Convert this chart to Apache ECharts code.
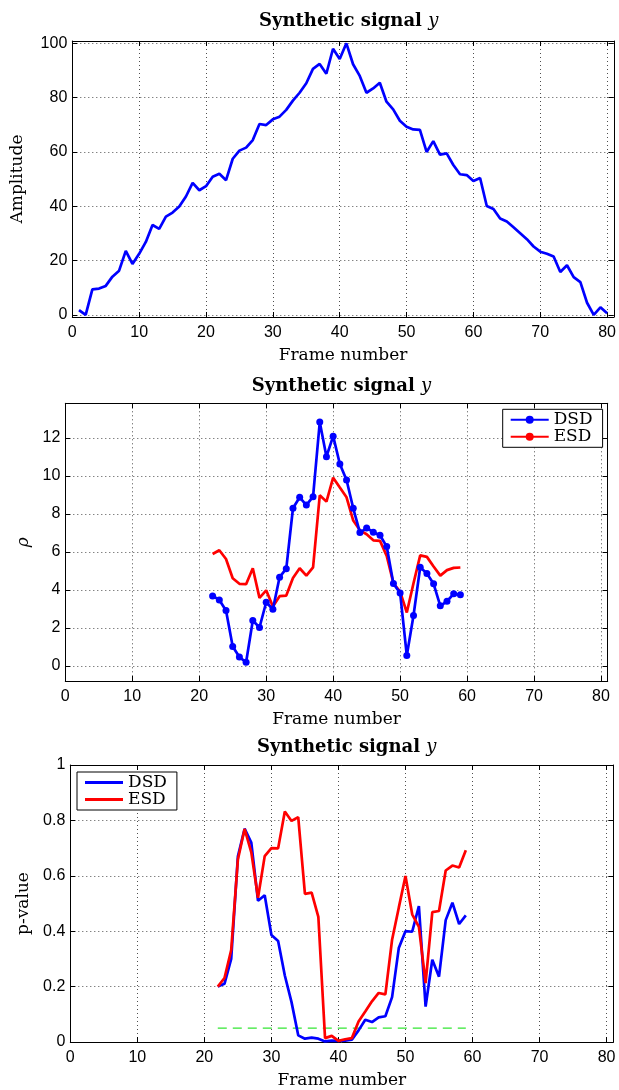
<!DOCTYPE html>
<html>
<head>
<meta charset="utf-8">
<script src="https://cdn.jsdelivr.net/npm/echarts@6/dist/echarts.min.js"></script>
<style>
  html, body { margin: 0; padding: 0; background: #fff; }
  #chart { width: 619px; height: 1090px; }
</style>
</head>
<body>
<div id="chart"></div>
<script>
// Synthetic signal amplitude, frames 1..80
const signalStart = 1;
const signalY = [1.8, 0, 9.4, 9.7, 10.7, 14.1, 16.3, 23.6, 18.8, 22.5,
  26.9, 33.1, 31.7, 36.2, 37.7, 39.9, 43.6, 48.6, 45.9, 47.4,
  50.9, 52.0, 49.6, 57.5, 60.5, 61.6, 64.4, 70.3, 69.9, 72.0,
  73.0, 75.5, 78.9, 81.8, 85.3, 90.6, 92.4, 88.8, 98.0, 94.2,
  100, 92.3, 88.0, 81.8, 83.4, 85.5, 78.5, 75.7, 71.5, 69.3,
  68.3, 68.1, 60.0, 64.0, 59.0, 59.5, 55.2, 51.8, 51.5, 49.3,
  50.4, 40.1, 39.0, 35.5, 34.4, 32.3, 30.1, 27.9, 25.2, 23.3,
  22.5, 21.5, 15.8, 18.3, 13.9, 12.1, 4.5, 0, 2.8, 0.6];

// Test statistics, frames 22..59
const testStart = 22;
const rhoDSD = [3.68, 3.47, 2.91, 1.02, 0.46, 0.19, 2.39, 2.02, 3.35, 2.98,
  4.67, 5.12, 8.30, 8.88, 8.47, 8.91, 12.84, 11.02, 12.1, 10.63,
  9.79, 8.30, 7.02, 7.26, 7.04, 6.88, 6.28, 4.33, 3.84, 0.54,
  2.65, 5.19, 4.86, 4.32, 3.16, 3.40, 3.79, 3.74];
const rhoESD = [5.89, 6.09, 5.63, 4.61, 4.32, 4.30, 5.14, 3.58, 3.98, 3.12,
  3.67, 3.70, 4.63, 5.14, 4.75, 5.19, 8.98, 8.65, 9.91, 9.39,
  8.88, 7.65, 7.14, 6.93, 6.61, 6.58, 5.79, 4.35, 3.91, 2.81,
  4.35, 5.82, 5.74, 5.23, 4.75, 5.04, 5.16, 5.18];
const pDSD = [0.20, 0.21, 0.30, 0.67, 0.77, 0.72, 0.51, 0.53, 0.386, 0.365,
  0.24, 0.144, 0.024, 0.012, 0.016, 0.012, 0.002, 0.005, 0.004, 0.005,
  0.008, 0.042, 0.08, 0.072, 0.089, 0.093, 0.162, 0.339, 0.40, 0.398,
  0.491, 0.128, 0.297, 0.236, 0.44, 0.503, 0.426, 0.457];
const pESD = [0.20, 0.231, 0.332, 0.659, 0.769, 0.685, 0.521, 0.671, 0.70, 0.699,
  0.832, 0.798, 0.812, 0.535, 0.539, 0.452, 0.014, 0.022, 0.004, 0.01,
  0.014, 0.074, 0.11, 0.147, 0.177, 0.172, 0.369, 0.485, 0.599, 0.461,
  0.416, 0.213, 0.469, 0.473, 0.619, 0.637, 0.63, 0.692];

// Significance level line
const alphaLevel = 0.05;
const alphaFrames = [22, 59];

// Tick labels
const frameTicks = [0, 10, 20, 30, 40, 50, 60, 70, 80];
const ampTicks = [0, 20, 40, 60, 80, 100];
const rhoTicks = [0, 2, 4, 6, 8, 10, 12];
const pTicks = [0, 0.2, 0.4, 0.6, 0.8, 1];

const titleText = 'Synthetic signal ';
const xName = 'Frame number';

function pairs(start, values) {
  return values.map((v, i) => [start + i, v]);
}

const SANS = 'Liberation Sans';
const SERIF = 'DejaVu Serif';

const grids = [
  { left: 72.3, top: 41, width: 542.7, height: 276 },
  { left: 65.3, top: 403.3, width: 542.4, height: 277.7 },
  { left: 70.3, top: 765, width: 543, height: 278.3 }
];

const gridLine = { show: true, lineStyle: { color: '#222', width: 0.8, type: [1, 3] } };
const axisLine = { show: true, onZero: false, lineStyle: { color: '#000', width: 1 } };

function xAxes(gi) {
  return [
    {
      type: 'value', gridIndex: gi, position: 'bottom', min: 0, max: 81,
      name: xName, nameLocation: 'middle', nameGap: 30,
      nameTextStyle: { fontFamily: SERIF, fontSize: 17, color: '#000' },
      axisLine: axisLine,
      axisTick: { show: true, inside: true, length: 5, customValues: frameTicks, lineStyle: { color: '#000' } },
      axisLabel: { customValues: frameTicks, margin: 8, fontFamily: SANS, fontSize: 16, color: '#000' },
      splitLine: gridLine
    },
    {
      type: 'value', gridIndex: gi, position: 'top', min: 0, max: 81,
      axisLine: axisLine,
      axisTick: { show: true, inside: true, length: 5, customValues: frameTicks, lineStyle: { color: '#000' } },
      axisLabel: { show: false },
      splitLine: { show: false }
    }
  ];
}

function yAxes(gi, min, max, ticks, name, nameGap, italic) {
  return [
    {
      type: 'value', gridIndex: gi, position: 'left', min: min, max: max,
      name: name, nameLocation: 'middle', nameGap: nameGap,
      nameTextStyle: { fontFamily: SERIF, fontSize: 17, color: '#000', fontStyle: italic ? 'italic' : 'normal' },
      axisLine: axisLine,
      axisTick: { show: true, inside: true, length: 5, customValues: ticks, lineStyle: { color: '#000' } },
      axisLabel: { customValues: ticks, margin: 5, fontFamily: SANS, fontSize: 16, color: '#000' },
      splitLine: gridLine
    },
    {
      type: 'value', gridIndex: gi, position: 'right', min: min, max: max,
      axisLine: axisLine,
      axisTick: { show: true, inside: true, length: 5, customValues: ticks, lineStyle: { color: '#000' } },
      axisLabel: { show: false },
      splitLine: { show: false }
    }
  ];
}

function title(gi, top) {
  const g = grids[gi];
  return {
    text: '{b|' + titleText + '}{i|y}',
    left: g.left + g.width / 2, top: top, textAlign: 'center',
    textStyle: {
      rich: {
        b: { fontFamily: SERIF, fontWeight: 'bold', fontSize: 18, color: '#000' },
        i: { fontFamily: SERIF, fontStyle: 'italic', fontWeight: 'normal', fontSize: 18, color: '#000' }
      }
    }
  };
}

const legendBase = {
  orient: 'vertical', itemGap: 0, itemWidth: 38,
  backgroundColor: '#fff', borderColor: '#000', borderWidth: 1, borderRadius: 0,
  textStyle: { fontFamily: SERIF, fontSize: 17, color: '#000', lineHeight: 15 },
  selectedMode: false
};

const option = {
  animation: false,
  backgroundColor: '#fff',
  title: [title(0, 7), title(1, 372), title(2, 733)],
  grid: grids,
  xAxis: [...xAxes(0), ...xAxes(1), ...xAxes(2)],
  yAxis: [
    ...yAxes(0, -0.75, 100.85, ampTicks, 'Amplitude', 46, false),
    ...yAxes(1, -0.8, 13.83, rhoTicks, '\u03c1', 32, true),
    ...yAxes(2, 0, 1, pTicks, 'p-value', 38, false)
  ],
  legend: [
    Object.assign({}, legendBase, {
      left: 502.7, top: 409.3, padding: [2, 10, 2, 7], itemHeight: 10,
      data: ['DSD', 'ESD']
    }),
    Object.assign({}, legendBase, {
      left: 77, top: 772, padding: [2, 10, 2, 8], itemHeight: 3,
      data: [{ name: 'DSD ', icon: 'rect' }, { name: 'ESD ', icon: 'rect' }],
      formatter: (n) => n.trim()
    })
  ],
  series: [
    {
      type: 'line', name: 'y', xAxisIndex: 0, yAxisIndex: 0,
      data: pairs(signalStart, signalY), symbol: 'none',
      lineStyle: { color: '#0000ff', width: 2.7 }
    },
    {
      type: 'line', name: 'DSD', xAxisIndex: 2, yAxisIndex: 2,
      data: pairs(testStart, rhoDSD), symbol: 'circle', symbolSize: 7,
      itemStyle: { color: '#0000ff' },
      lineStyle: { color: '#0000ff', width: 2.7 }, z: 3
    },
    {
      type: 'line', name: 'ESD', xAxisIndex: 2, yAxisIndex: 2,
      data: pairs(testStart, rhoESD), symbol: 'none',
      itemStyle: { color: '#ff0000' },
      lineStyle: { color: '#ff0000', width: 2.7 }, z: 2
    },
    {
      type: 'line', name: 'DSD ', xAxisIndex: 4, yAxisIndex: 4,
      data: pairs(testStart, pDSD), symbol: 'none',
      itemStyle: { color: '#0000ff' },
      lineStyle: { color: '#0000ff', width: 2.7 }, z: 2
    },
    {
      type: 'line', name: 'ESD ', xAxisIndex: 4, yAxisIndex: 4,
      data: pairs(testStart, pESD), symbol: 'none',
      itemStyle: { color: '#ff0000' },
      lineStyle: { color: '#ff0000', width: 2.7 }, z: 3
    },
    {
      type: 'line', name: 'alpha', xAxisIndex: 4, yAxisIndex: 4,
      data: alphaFrames.map((f) => [f, alphaLevel]), symbol: 'none',
      itemStyle: { color: '#33e633' },
      lineStyle: { color: '#33e633', width: 1.3, type: [9, 6], opacity: 1 }, z: 1
    }
  ]
};

const chart = echarts.init(document.getElementById('chart'), null, { renderer: 'canvas' });
chart.setOption(option);
</script>
</body>
</html>
